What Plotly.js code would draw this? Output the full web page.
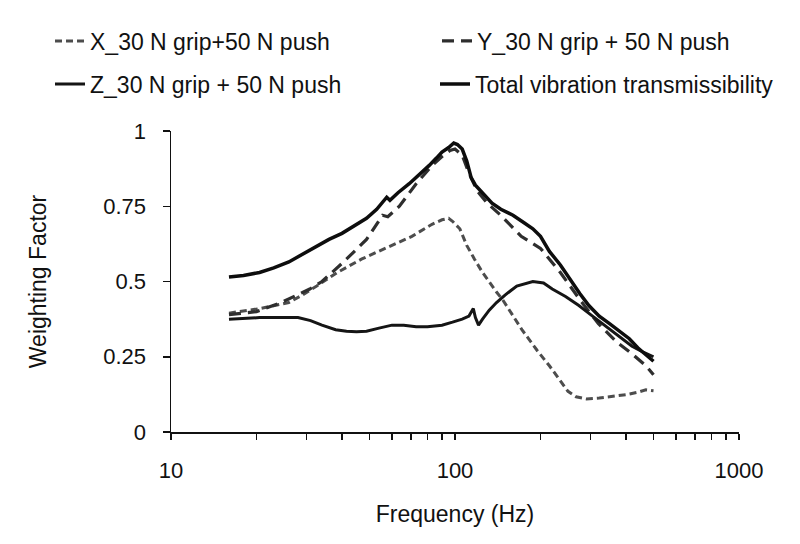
<!DOCTYPE html>
<html>
<head>
<meta charset="utf-8">
<script src="https://cdn.plot.ly/plotly-3.0.1.min.js"></script>
<style>html,body{margin:0;padding:0;background:#fff;}#chart{width:800px;height:544px;}</style>
</head>
<body>
<div id="chart"></div>
<script>
// Series names
var nameX = "X_30 N grip+50 N push";
var nameY = "Y_30 N grip + 50 N push";
var nameZ = "Z_30 N grip + 50 N push";
var nameTotal = "Total vibration transmissibility";

// X direction (short dashes)
var freqX = [16, 20.5, 26, 29, 32.6, 38.5, 47, 58.8, 70.5, 83, 90, 95, 98, 104, 110, 117, 125, 140, 147, 172, 195, 215, 235, 250, 267, 290, 322, 360, 401, 440, 470, 500];
var valX  = [0.395, 0.41, 0.43, 0.455, 0.485, 0.53, 0.575, 0.615, 0.65, 0.69, 0.705, 0.71, 0.70, 0.675, 0.62, 0.575, 0.53, 0.465, 0.44, 0.34, 0.27, 0.22, 0.17, 0.135, 0.117, 0.11, 0.113, 0.118, 0.124, 0.132, 0.14, 0.137];

// Y direction (long dashes)
var freqY = [16, 20, 24.4, 28, 30.8, 34, 36, 40, 42.6, 48.8, 55.6, 58, 63.7, 73, 83, 90, 96, 100, 106, 112, 120, 130, 145, 171, 200, 235, 275, 320, 370, 420, 470, 500];
var valY  = [0.39, 0.40, 0.43, 0.455, 0.475, 0.50, 0.52, 0.56, 0.585, 0.64, 0.72, 0.715, 0.75, 0.825, 0.885, 0.915, 0.935, 0.94, 0.92, 0.86, 0.80, 0.76, 0.72, 0.65, 0.61, 0.53, 0.44, 0.36, 0.30, 0.26, 0.22, 0.19];

// Z direction (solid)
var freqZ = [16, 20.5, 24, 28, 31, 34, 38, 41.5, 45, 48.8, 54, 60, 66, 73, 80, 90, 98, 106, 112, 116, 118, 121, 125, 132, 140, 150, 165, 188, 205, 220, 245, 273, 305, 340, 380, 420, 460, 500];
var valZ  = [0.375, 0.38, 0.38, 0.38, 0.37, 0.355, 0.34, 0.335, 0.333, 0.335, 0.345, 0.355, 0.355, 0.35, 0.35, 0.355, 0.365, 0.375, 0.385, 0.41, 0.38, 0.355, 0.375, 0.405, 0.43, 0.455, 0.485, 0.50, 0.495, 0.475, 0.45, 0.42, 0.385, 0.35, 0.315, 0.285, 0.265, 0.25];

// Total vibration transmissibility (solid, top)
var freqT = [16, 18, 20.5, 23, 26, 29, 32.6, 36, 40, 44, 48.8, 53, 56, 57.5, 59, 63, 69, 75, 81, 86, 90, 95, 99, 102, 106, 110, 114, 118, 122, 128, 135, 145, 160, 175, 188, 200, 215, 235, 253, 275, 296, 322, 350, 380, 411, 440, 470, 500];
var valT  = [0.515, 0.52, 0.53, 0.545, 0.565, 0.59, 0.615, 0.64, 0.66, 0.685, 0.71, 0.74, 0.765, 0.78, 0.77, 0.795, 0.825, 0.855, 0.885, 0.91, 0.93, 0.945, 0.96, 0.955, 0.94, 0.9, 0.845, 0.82, 0.805, 0.78, 0.76, 0.74, 0.72, 0.695, 0.675, 0.65, 0.60, 0.555, 0.51, 0.46, 0.42, 0.385, 0.36, 0.335, 0.31, 0.28, 0.255, 0.235];

// Axis ticks
var xTickVals = [10, 20, 30, 40, 50, 60, 70, 80, 90, 100, 200, 300, 400, 500, 600, 700, 800, 900, 1000];
var xTickText = ["10", "", "", "", "", "", "", "", "", "100", "", "", "", "", "", "", "", "", "1000"];
var yTickVals = [0, 0.25, 0.5, 0.75, 1];
var yTickText = ["0", "0.25", "0.5", "0.75", "1"];

var FONT = "Liberation Sans, Arial, sans-serif";
var INK = "#111111";

var traces = [
  {x: freqX, y: valX, name: nameX, type: "scatter", mode: "lines",
   line: {color: "#4d4d4d", width: 3, dash: "7px,4px"}, legend: "legend"},
  {x: freqY, y: valY, name: nameY, type: "scatter", mode: "lines",
   line: {color: "#2e2e2e", width: 3.2, dash: "12px,7px"}, legend: "legend2"},
  {x: freqZ, y: valZ, name: nameZ, type: "scatter", mode: "lines",
   line: {color: "#151515", width: 3}, legend: "legend3"},
  {x: freqT, y: valT, name: nameTotal, type: "scatter", mode: "lines",
   line: {color: "#0d0d0d", width: 3.5}, legend: "legend4"}
];

function legendAt(px, py) {
  return {
    orientation: "h", xref: "container", yref: "container",
    xanchor: "left", yanchor: "middle",
    x: px / 800, y: 1 - py / 544,
    font: {family: FONT, size: 23, color: INK},
    bgcolor: "rgba(0,0,0,0)", borderwidth: 0
  };
}

var layout = {
  width: 800, height: 544,
  paper_bgcolor: "#ffffff", plot_bgcolor: "#ffffff",
  margin: {l: 171, r: 61, t: 131, b: 112},
  font: {family: FONT, size: 21, color: INK},
  showlegend: true,
  legend: legendAt(50, 41),
  legend2: legendAt(437, 41),
  legend3: legendAt(50, 84),
  legend4: legendAt(435, 84),
  xaxis: {
    type: "log", range: [1, 3],
    tickvals: xTickVals, ticktext: xTickText,
    ticks: "outside", ticklen: 6, tickwidth: 1.5, tickcolor: INK,
    showline: true, linecolor: INK, linewidth: 1.5,
    showgrid: false, zeroline: false,
    ticklabelstandoff: 12,
    tickfont: {family: FONT, size: 22, color: INK},
    title: {text: "Frequency (Hz)", font: {family: FONT, size: 23, color: INK}, standoff: 24}
  },
  yaxis: {
    range: [0, 1],
    tickvals: yTickVals, ticktext: yTickText,
    ticks: "outside", ticklen: 7, tickwidth: 1.5, tickcolor: INK,
    showline: true, linecolor: INK, linewidth: 1.5,
    showgrid: false, zeroline: false,
    ticklabelstandoff: 12,
    tickfont: {family: FONT, size: 22, color: INK},
    title: {text: "Weighting Factor", font: {family: FONT, size: 23, color: INK}, standoff: 50}
  }
};

Plotly.newPlot("chart", traces, layout, {displayModeBar: false, staticPlot: true});
</script>
</body>
</html>
